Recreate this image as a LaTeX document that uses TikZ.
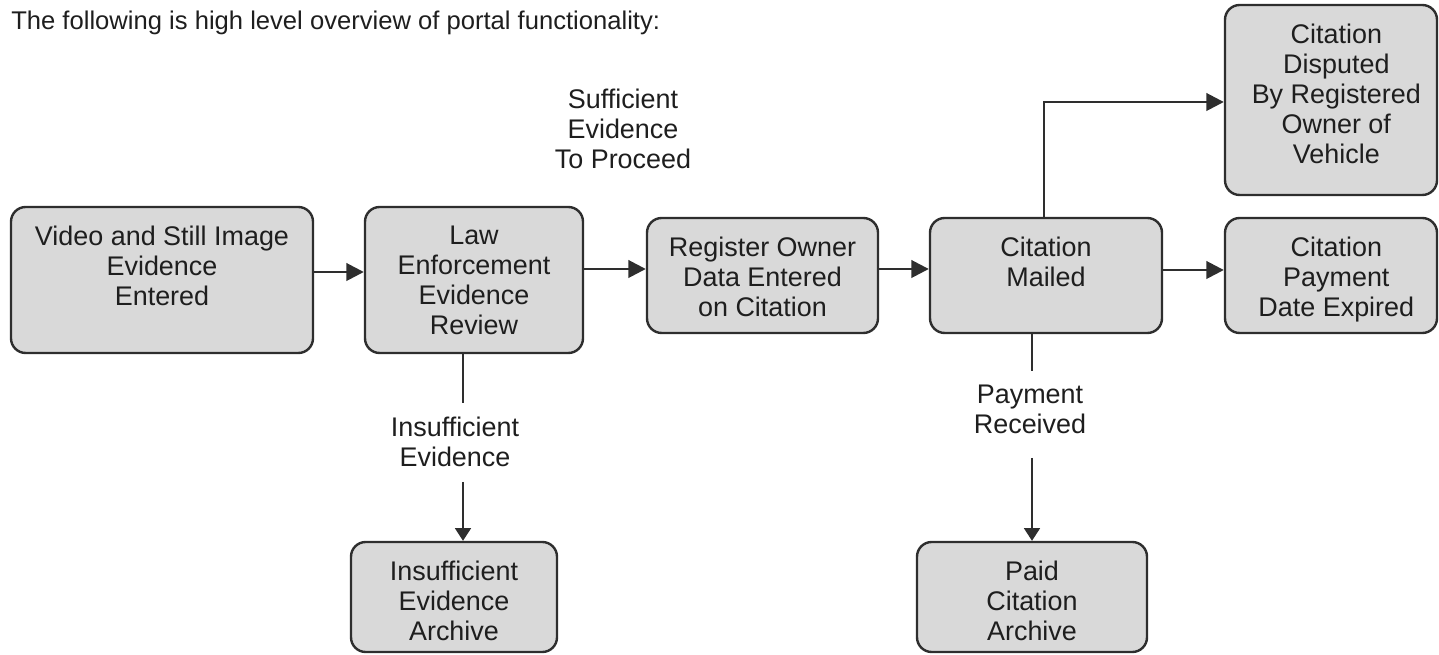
\documentclass[tikz,border=0pt]{standalone}
\usepackage{fontspec}
\setmainfont{Liberation Sans}
\usetikzlibrary{arrows.meta}
\definecolor{boxfill}{HTML}{D9D9D9}
\definecolor{edge}{HTML}{2E2E2E}
\definecolor{ink}{HTML}{1E1E1E}
\begin{document}
\begin{tikzpicture}[x=0.75pt,y=-0.75pt,
  box/.style={draw=edge, line width=1.8pt, fill=boxfill, rounded corners=11pt, inner sep=0pt},
  txt/.style={anchor=north, inner sep=0pt, align=center, text=ink, font=\fontsize{20.2}{22.5}\selectfont},
  arr/.style={draw=edge, line width=2pt, -{Triangle[length=13pt,width=13pt]}},
  varr/.style={draw=edge, line width=1.2pt, -{Triangle[length=9.5pt,width=12pt]}},
  vline/.style={draw=edge, line width=1.2pt}]
\useasboundingbox (0,0) rectangle (1439,655);

% title
\node[anchor=base west, inner sep=0pt, text=ink, font=\fontsize{19.2}{22}\selectfont] (title) at (11,30)
  {The following is high level overview of portal functionality:};

% boxes
\node[box, minimum width=226.5pt, minimum height=109.5pt] (v) at (162,280) {};
\node[box, minimum width=163.5pt, minimum height=109.5pt] (law) at (474,280) {};
\node[box, minimum width=173.25pt, minimum height=86.25pt] (reg) at (762.5,275.5) {};
\node[box, minimum width=174pt, minimum height=86.25pt] (mail) at (1046,275.5) {};
\node[box, minimum width=159pt, minimum height=142.5pt] (disp) at (1331,100) {};
\node[box, minimum width=159pt, minimum height=86.25pt] (pay) at (1331,275.5) {};
\node[box, minimum width=154.5pt, minimum height=82.5pt] (ins) at (454,597) {};
\node[box, minimum width=172.5pt, minimum height=82.5pt] (paid) at (1032,597) {};

% box texts
\node[txt] (vt) at ([yshift=-15pt]v.north) {Video and Still Image\\Evidence\\Entered};
\node[txt] (lawt) at ([yshift=-15pt]law.north) {Law\\Enforcement\\Evidence\\Review};
\node[txt] (regt) at ([yshift=-15pt]reg.north) {Register Owner\\Data Entered\\on Citation};
\node[txt] (mailt) at ([yshift=-15pt]mail.north) {Citation\\Mailed};
\node[txt] (dispt) at ([yshift=-15pt,xshift=4pt]disp.north) {Citation\\Disputed\\By Registered\\Owner of\\Vehicle};
\node[txt] (payt) at ([yshift=-15pt,xshift=4pt]pay.north) {Citation\\Payment\\Date Expired};
\node[txt] (inst) at ([yshift=-15pt]ins.north) {Insufficient\\Evidence\\Archive};
\node[txt] (paidt) at ([yshift=-15pt]paid.north) {Paid\\Citation\\Archive};

% labels
\node[txt] (suff) at (623,88.5) {Sufficient\\Evidence\\To Proceed};
\node[txt] (insl) at (455,416.5) {Insufficient\\Evidence};
\node[txt] (payl) at (1030,384.5) {Payment\\Received};

% connector free ends
\coordinate (a1) at (463,403);
\coordinate (a2) at (463,482);
\coordinate (b1) at (1032,371);
\coordinate (b2) at (1032,458);

% connectors
\draw[arr] (v.east |- 0,272) -- (law.west |- 0,272);
\draw[arr] (law.east |- 0,269) -- (reg.west |- 0,269);
\draw[arr] (reg.east |- 0,269) -- (mail.west |- 0,269);
\draw[arr] (mail.east |- 0,270) -- (pay.west |- 0,270);
\draw[arr] (mail.north -| 1044,0) |- (disp.west |- 0,102);
\draw[vline] (law.south -| a1) -- (a1);
\draw[varr] (a2) -- (ins.north -| a2);
\draw[vline] (mail.south -| b1) -- (b1);
\draw[varr] (b2) -- (paid.north -| b2);
\end{tikzpicture}
\end{document}
